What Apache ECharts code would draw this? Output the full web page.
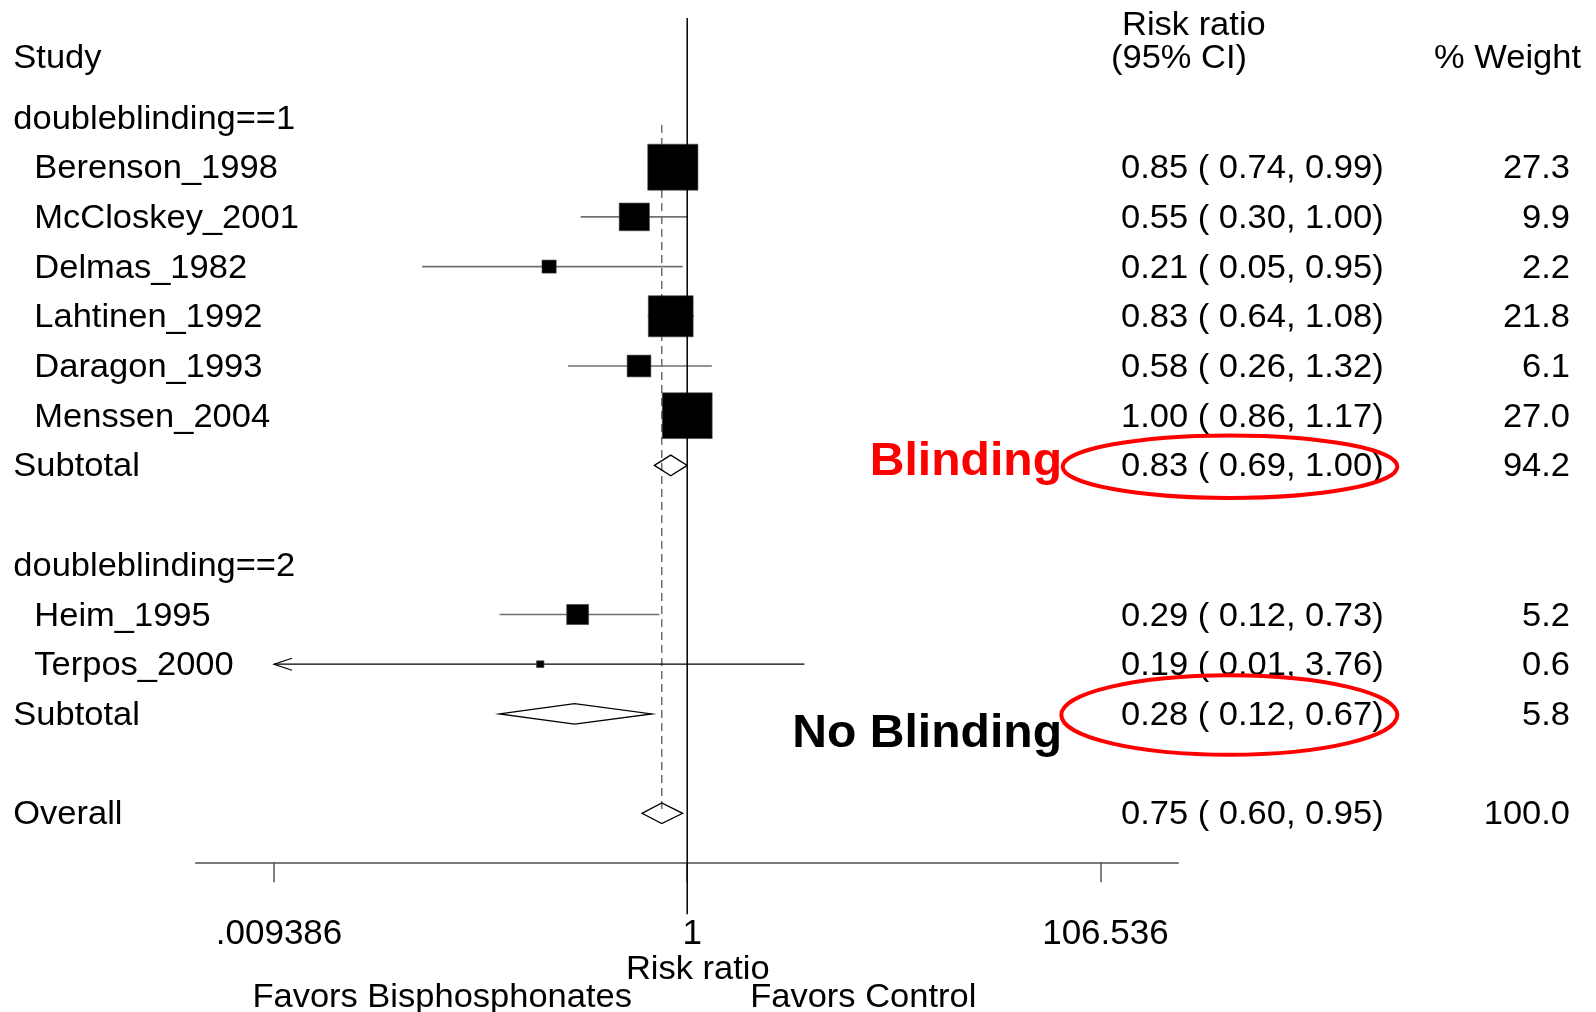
<!DOCTYPE html>
<html>
<head>
<meta charset="utf-8">
<script src="https://cdn.jsdelivr.net/npm/echarts@6/dist/echarts.min.js"></script>
<style>
html,body{margin:0;padding:0;background:#fff;}
#c{width:1596px;height:1012px;}
</style>
</head>
<body>
<div id="c"></div>
<script>
// ---------------- data ----------------
const rowLabels = ['doubleblinding==1','Berenson_1998','McCloskey_2001','Delmas_1982','Lahtinen_1992','Daragon_1993','Menssen_2004','Subtotal','','doubleblinding==2','Heim_1995','Terpos_2000','Subtotal','','Overall'];
const rowKinds  = ['group','study','study','study','study','study','study','subtotal','blank','group','study','study','subtotal','blank','overall'];

const studyRows   = [1, 2, 3, 4, 5, 6, 10, 11];
const studyRR     = [0.85, 0.55, 0.21, 0.83, 0.58, 1.00, 0.29, 0.19];
const studyLo     = [0.74, 0.30, 0.05, 0.64, 0.26, 0.86, 0.12, 0.009];
const studyHi     = [0.99, 1.00, 0.95, 1.08, 1.32, 1.17, 0.73, 3.76];
const studyWeight = [27.3, 9.9, 2.2, 21.8, 6.1, 27.0, 5.2, 0.6];

const poolRows    = [7, 12, 14];
const poolRR      = [0.83, 0.28, 0.75];
const poolLo      = [0.69, 0.12, 0.60];
const poolHi      = [1.00, 0.67, 0.95];
const poolWeight  = [94.2, 5.8, 100.0];

const overallRR   = 0.75;
const tickValues  = [0.009386, 1, 106.536];
const tickLabels  = ['.009386', '1', '106.536'];

// ---------------- layout ----------------
const LN = Math.log;
const FONT = '"Liberation Sans", Arial, Helvetica, sans-serif';
const SX = 1.045;
const TEXT_DY = 2;
const X_MIN = -5.55, X_MAX = 5.545, Y_MIN = -2, Y_MAX = 16;
const tickLn = tickValues.map(LN);
const clipLo = LN(tickValues[0]);
const clipHi = LN(tickValues[tickValues.length - 1]);

function textEl(x, y, text, align, size, weight, color) {
  return {
    type: 'text', x: x, y: y, scaleX: SX,
    style: {
      text: text, x: 0, y: 0,
      fill: color || '#000',
      font: (weight || 'normal') + ' ' + (size || 33) + 'px ' + FONT,
      align: align || 'left', verticalAlign: 'middle'
    }
  };
}

const fmt2 = v => v.toFixed(2);
const ciText = (rr, lo, hi) => fmt2(rr) + ' ( ' + fmt2(lo) + ', ' + fmt2(hi) + ')';

const studyData = studyRows.map((r, i) => [LN(studyRR[i]), r, studyWeight[i], LN(studyLo[i]), LN(studyHi[i])]);
const poolData  = poolRows.map((r, i) => [LN(poolLo[i]), LN(poolRR[i]), LN(poolHi[i]), r]);

const textRows = [];
studyRows.forEach((r, i) => textRows.push([r, ciText(studyRR[i], studyLo[i], studyHi[i]), studyWeight[i].toFixed(1)]));
poolRows.forEach((r, i) => textRows.push([r, ciText(poolRR[i], poolLo[i], poolHi[i]), poolWeight[i].toFixed(1)]));

const chart = echarts.init(document.getElementById('c'), null, {renderer: 'canvas'});

const option = {
  animation: false,
  backgroundColor: '#ffffff',
  grid: {left: 196, width: 982, top: 18.1, height: 894.6, containLabel: false},
  xAxis: {
    type: 'value', min: X_MIN, max: X_MAX, offset: -50.4,
    axisLine: {show: true, onZero: false, lineStyle: {color: '#7a7a7a', width: 2}},
    axisTick: {show: true, length: 20, customValues: tickLn, lineStyle: {color: '#555', width: 1.5}},
    axisLabel: {
      show: true, customValues: tickLn, margin: 55, fontSize: 35, fontFamily: FONT, color: '#000',
      padding: [0, 0, 0, 10],
      formatter: function (v) {
        for (let i = 0; i < tickLn.length; i++) if (Math.abs(tickLn[i] - v) < 1e-6) return tickLabels[i];
        return '';
      }
    },
    splitLine: {show: false}
  },
  yAxis: {type: 'value', min: Y_MIN, max: Y_MAX, inverse: true, show: false},
  series: [
    // overall dashed line
    {
      type: 'custom', silent: true, z: 1,
      data: [[LN(overallRR), 0.15, poolRows[poolRows.length - 1]]],
      renderItem: function (p, api) {
        const a = api.coord([api.value(0), api.value(1)]);
        const b = api.coord([api.value(0), api.value(2)]);
        return {type: 'line', shape: {x1: a[0], y1: a[1], x2: b[0], y2: b[1]},
          style: {stroke: '#6e6e6e', lineWidth: 1.5, lineDash: [8, 5]}};
      }
    },
    // CI lines
    {
      type: 'custom', silent: true, z: 2,
      data: studyData,
      renderItem: function (p, api) {
        const lo = api.value(3), hi = api.value(4), row = api.value(1);
        const arrowL = lo < clipLo, arrowR = hi > clipHi;
        const a = api.coord([Math.max(lo, clipLo), row]);
        const b = api.coord([Math.min(hi, clipHi), row]);
        const col = (arrowL || arrowR) ? '#000' : '#707070';
        const lw = (arrowL || arrowR) ? 1.2 : 1.6;
        const children = [{type: 'line', shape: {x1: a[0], y1: a[1], x2: b[0], y2: b[1]},
          style: {stroke: col, lineWidth: lw}}];
        if (arrowL) children.push({type: 'polyline', shape: {points: [[a[0] + 18, a[1] - 6], [a[0], a[1]], [a[0] + 18, a[1] + 6]]},
          style: {stroke: '#000', lineWidth: 1.2, fill: null}});
        if (arrowR) children.push({type: 'polyline', shape: {points: [[b[0] - 18, b[1] - 6], [b[0], b[1]], [b[0] - 18, b[1] + 6]]},
          style: {stroke: '#000', lineWidth: 1.2, fill: null}});
        return {type: 'group', children: children};
      }
    },
    // weighted squares
    {
      type: 'custom', silent: true, z: 3,
      data: studyData,
      renderItem: function (p, api) {
        const c = api.coord([api.value(0), api.value(1)]);
        const s = Math.sqrt(api.value(2));
        const w = 9.6 * s, h = 8.8 * s;
        return {type: 'rect', shape: {x: c[0] - w / 2, y: c[1] - h / 2, width: w, height: h},
          style: {fill: '#000', stroke: '#444', lineWidth: 0.6}};
      }
    },
    // pooled diamonds
    {
      type: 'custom', silent: true, z: 4,
      data: poolData,
      renderItem: function (p, api) {
        const row = api.value(3);
        const l = api.coord([api.value(0), row]);
        const m = api.coord([api.value(1), row]);
        const r = api.coord([api.value(2), row]);
        const hh = 10.3;
        return {type: 'polygon', shape: {points: [[l[0], l[1]], [m[0], m[1] - hh], [r[0], r[1]], [m[0], m[1] + hh]]},
          style: {fill: null, stroke: '#000', lineWidth: 1.3}};
      }
    },
    // null line at RR = 1
    {
      type: 'custom', silent: true, z: 5,
      data: [[LN(1)]],
      renderItem: function (p, api) {
        const a = api.coord([api.value(0), Y_MIN]);
        const b = api.coord([api.value(0), Y_MAX]);
        return {type: 'line', shape: {x1: a[0], y1: a[1], x2: b[0], y2: b[1] + 1.5},
          style: {stroke: '#000', lineWidth: 1.5}};
      }
    },
    // row labels
    {
      type: 'custom', silent: true, z: 6,
      data: rowLabels.map((t, i) => [0, i]),
      renderItem: function (p, api) {
        const i = p.dataIndex;
        const t = rowLabels[i];
        if (!t) return null;
        const y = api.coord([0, api.value(1)])[1] + TEXT_DY;
        const x = rowKinds[i] === 'study' ? 34.3 : 13.3;
        return textEl(x, y, t, 'left');
      }
    },
    // CI and weight columns
    {
      type: 'custom', silent: true, z: 6,
      data: textRows.map(d => [0, d[0]]),
      renderItem: function (p, api) {
        const d = textRows[p.dataIndex];
        const y = api.coord([0, api.value(1)])[1] + TEXT_DY;
        return {type: 'group', children: [
          textEl(1121, y, d[1], 'left'),
          textEl(1570, y, d[2], 'right')
        ]};
      }
    }
  ],
  graphic: [
    // headers
    textEl(13.3, 58.5, 'Study', 'left'),
    textEl(1122, 26, 'Risk ratio', 'left'),
    textEl(1111, 58.5, '(95% CI)', 'left'),
    textEl(1581, 58.5, '% Weight', 'right'),
    // axis title and direction labels
    textEl(697.8, 970, 'Risk ratio', 'center'),
    textEl(252.4, 998, 'Favors Bisphosphonates', 'left'),
    textEl(750.2, 998, 'Favors Control', 'left'),
    // annotations
    {type: 'ellipse', shape: {cx: 1230, cy: 466.7, rx: 167.3, ry: 31.3},
      style: {fill: null, stroke: '#ff0000', lineWidth: 4}, z: 10},
    {type: 'ellipse', shape: {cx: 1229.3, cy: 715, rx: 168, ry: 39.7},
      style: {fill: null, stroke: '#ff0000', lineWidth: 4}, z: 10},
    Object.assign(textEl(1062, 462.5, 'Blinding', 'right', 46, 'bold', '#ff0000'), {z: 10}),
    Object.assign(textEl(1062, 734.5, 'No Blinding', 'right', 46, 'bold', '#000'), {z: 10})
  ]
};

chart.setOption(option);
</script>
</body>
</html>
